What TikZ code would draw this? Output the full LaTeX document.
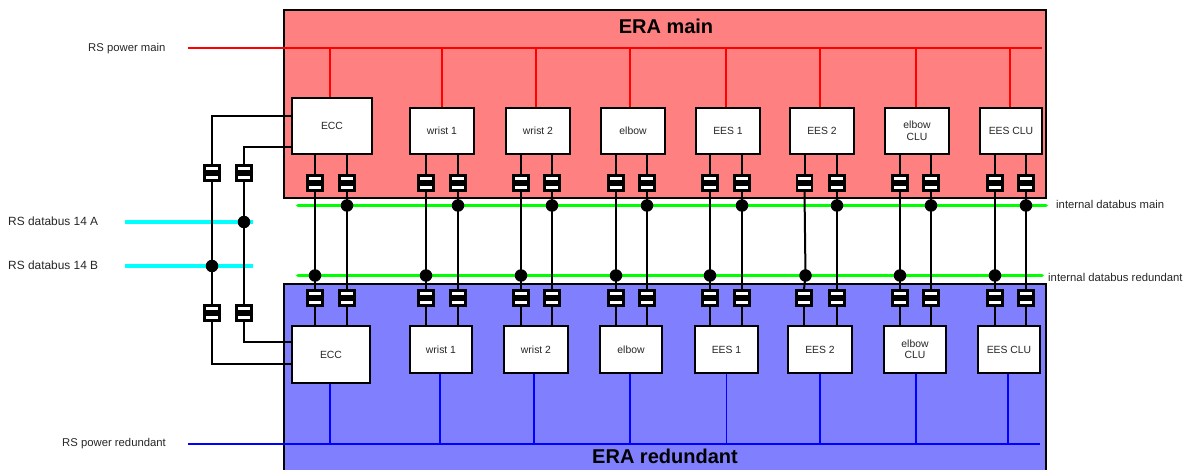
\documentclass[tikz,border=0pt]{standalone}
\usepackage{fontspec}
\setmainfont{Liberation Sans}
\usepackage{xcolor}
\usetikzlibrary{positioning}

\definecolor{panelmain}{RGB}{255,128,128}
\definecolor{panelred}{RGB}{128,128,255}
\definecolor{powerblue}{RGB}{0,0,255}
\definecolor{powerrose}{RGB}{255,0,0}
\definecolor{busgreen}{RGB}{0,255,0}
\definecolor{buscyan}{RGB}{0,255,255}

\begin{document}
\begin{tikzpicture}
[
	x=1pt, y=-1pt,
	panel/.style = {rectangle, draw, line width=1.6pt, anchor=north west},
	module/.style = {rectangle, draw, fill=white, line width=2pt, inner sep=0pt, align=center, font=\fontsize{10.4}{11.5}\selectfont, text=black!85},
	switchbox/.style = {rectangle, draw, fill=white, line width=2.4pt, inner sep=0pt, minimum width=15pt, minimum height=15pt,
		path picture={\fill[black] ([xshift=-1pt, yshift=-2.8pt] path picture bounding box.west) rectangle ([xshift=1pt, yshift=2.8pt] path picture bounding box.east);}},
	wire/.style = {-, line width=2pt},
	jointdot/.style = {circle, fill=black, inner sep=0pt, minimum size=12.5pt},
	busline/.style = {-, line width=3.8pt, busgreen},
	rsbus/.style = {-, line width=3.3pt, buscyan},
	powermain/.style = {-, line width=1.6pt, powerrose},
	powerred/.style = {-, line width=1.6pt, powerblue},
	sidelabel/.style = {inner sep=0pt, font=\fontsize{11.3}{13}\selectfont, text=black!85, anchor=west},
	buslabel/.style = {sidelabel, font=\fontsize{11.9}{13}\selectfont}
]

\useasboundingbox (0,0) rectangle (1183,470);

\node[panel, fill=panelmain, minimum width=762pt, minimum height=188pt] (eramain) at (283.3,9.5) {};
\node[panel, fill=panelred, minimum width=762pt, minimum height=190pt] (erared) at (283.3,283.5) {};
\node[font=\bfseries\fontsize{20}{24}\selectfont] (titlemain) at (666,26) {ERA main};
\node[font=\bfseries\fontsize{20}{24}\selectfont] (titlered) at (665,456) {ERA redundant};

% modules on the main side
\node[module, minimum width=80pt, minimum height=56pt] (eccmain) at (332,126) {ECC};
\node[module, minimum width=64pt, minimum height=46pt] (wristamain) at (442,131) {wrist 1};
\node[module, minimum width=64pt, minimum height=46pt] (wristbmain) at (538,131) {wrist 2};
\node[module, minimum width=64pt, minimum height=46pt] (elbowmain) at (633,131) {elbow};
\node[module, minimum width=64pt, minimum height=46pt] (eesamain) at (728,131) {EES 1};
\node[module, minimum width=64pt, minimum height=46pt] (eesbmain) at (822,131) {EES 2};
\node[module, minimum width=64pt, minimum height=46pt] (elbowclumain) at (917,131) {elbow\\CLU};
\node[module, minimum width=62pt, minimum height=46pt] (eesclumain) at (1011,131) {EES CLU};

% modules on the redundant side
\node[module, minimum width=78pt, minimum height=57pt] (eccred) at (331,354.5) {ECC};
\node[module, minimum width=62pt, minimum height=47pt] (wristared) at (441,349.5) {wrist 1};
\node[module, minimum width=64pt, minimum height=47pt] (wristbred) at (536,349.5) {wrist 2};
\node[module, minimum width=62pt, minimum height=47pt] (elbowred) at (631,349.5) {elbow};
\node[module, minimum width=63pt, minimum height=47pt] (eesared) at (726.5,349.5) {EES 1};
\node[module, minimum width=64pt, minimum height=47pt] (eesbred) at (820,349.5) {EES 2};
\node[module, minimum width=62pt, minimum height=47pt] (elbowclured) at (915,349.5) {elbow\\CLU};
\node[module, minimum width=62pt, minimum height=47pt] (eesclured) at (1009,349.5) {EES CLU};

\coordinate (powermainl) at (188,48);
\coordinate (powermainr) at (1042,48);
\coordinate (powerredl) at (188,444);
\coordinate (powerredr) at (1040,444);
\coordinate (busmainl) at (298,205.5);
\coordinate (busmainr) at (1046,205.5);
\coordinate (busredl) at (298,275.5);
\coordinate (busredr) at (1042,275.5);

\draw[powermain] (powermainl) -- (powermainr);
\draw[powerred] (powerredl) -- (powerredr);
\draw[busline, line cap=round] (busmainl) -- (busmainr);
\draw[busline, line cap=round] (busredl) -- (busredr);

% power drops, then the two wires of each module with their switches
\foreach \unit/\xa/\xc/\xd/\xb/\dm/\dr in {ecc/315/315/315/347/-2/-1, wrista/426/426/426/458/0/-1, wristb/521/521/521/552/-2/-2, elbow/616/616/616/647/-3/-1, eesa/710/710/710/742/-2/0, eesb/804.5/804/805.5/837/-2/0, elbowclu/900/900/900/931/-1/1, eesclu/995/995/995/1026/-1/-1}
{
	\draw[powermain] ([xshift=\dm pt] \unit main.north) -- ([xshift=\dm pt] \unit main.north |- powermainl);
	\draw[powerred] ([xshift=\dr pt] \unit red.south) -- ([xshift=\dr pt] \unit red.south |- powerredl);

	\node[switchbox] (\unit swam) at (\xa,183) {};
	\node[switchbox] (\unit swbm) at (\xb,183) {};
	\node[switchbox] (\unit swar) at (\xc,298) {};
	\node[switchbox] (\unit swbr) at (\xb,298) {};
	\node[jointdot] (\unit dotm) at (\unit swbm |- busmainl) {};
	\node[jointdot] (\unit dotr) at (\xd,275.5) {};

	\draw[wire] (\unit swam.north |- \unit main.south) -- (\unit swam.north);
	\draw[wire] (\unit swbm.north |- \unit main.south) -- (\unit swbm.north);
	\draw[wire] (\unit swam.south) -- (\unit dotr.center) -- (\unit swar.north);
	\draw[wire] (\unit swbm.south) -- (\unit swbr.north);
	\draw[wire] (\unit swar.south) -- (\unit swar.south |- \unit red.north);
	\draw[wire] (\unit swbr.south) -- (\unit swbr.south |- \unit red.north);
}

% RS databus side
\node[sidelabel] (lblpowermain) at (88,48.5) {RS power main};
\node[sidelabel] (lblpowerred) at (62,443.5) {RS power redundant};
\node[buslabel] (lblbusa) at (8,221.5) {RS databus 14 A};
\node[buslabel] (lblbusb) at (8,265) {RS databus 14 B};
\node[sidelabel, fill=white, inner sep=1pt] (lblintmain) at (1055,204) {internal databus main};
\node[sidelabel, fill=white, inner ysep=3pt, inner xsep=1pt] (lblintred) at (1047,277) {internal databus redundant};

\coordinate (rsbusal) at (125,222);
\coordinate (rsbusar) at (253,222);
\coordinate (rsbusbl) at (125,266);
\coordinate (rsbusbr) at (253,266);
\draw[rsbus] (rsbusal) -- (rsbusar);
\draw[rsbus] (rsbusbl) -- (rsbusbr);

\node[switchbox] (sidesw1m) at (212,173) {};
\node[switchbox] (sidesw2m) at (244,173) {};
\node[switchbox] (sidesw1r) at (212,313) {};
\node[switchbox] (sidesw2r) at (244,313) {};

\draw[wire] (eccmain.west |- 0,116) -| (sidesw1m.north);
\draw[wire] (eccmain.west |- 0,147) -| (sidesw2m.north);
\draw[wire] (sidesw1m.south) -- (sidesw1r.north);
\draw[wire] (sidesw2m.south) -- (sidesw2r.north);
\draw[wire] (sidesw1r.south) |- (eccred.west |- 0,364);
\draw[wire] (sidesw2r.south) |- (eccred.west |- 0,342);

\node[jointdot] (sidedota) at (sidesw2m |- rsbusal) {};
\node[jointdot] (sidedotb) at (sidesw1m |- rsbusbl) {};

\end{tikzpicture}
\end{document}
